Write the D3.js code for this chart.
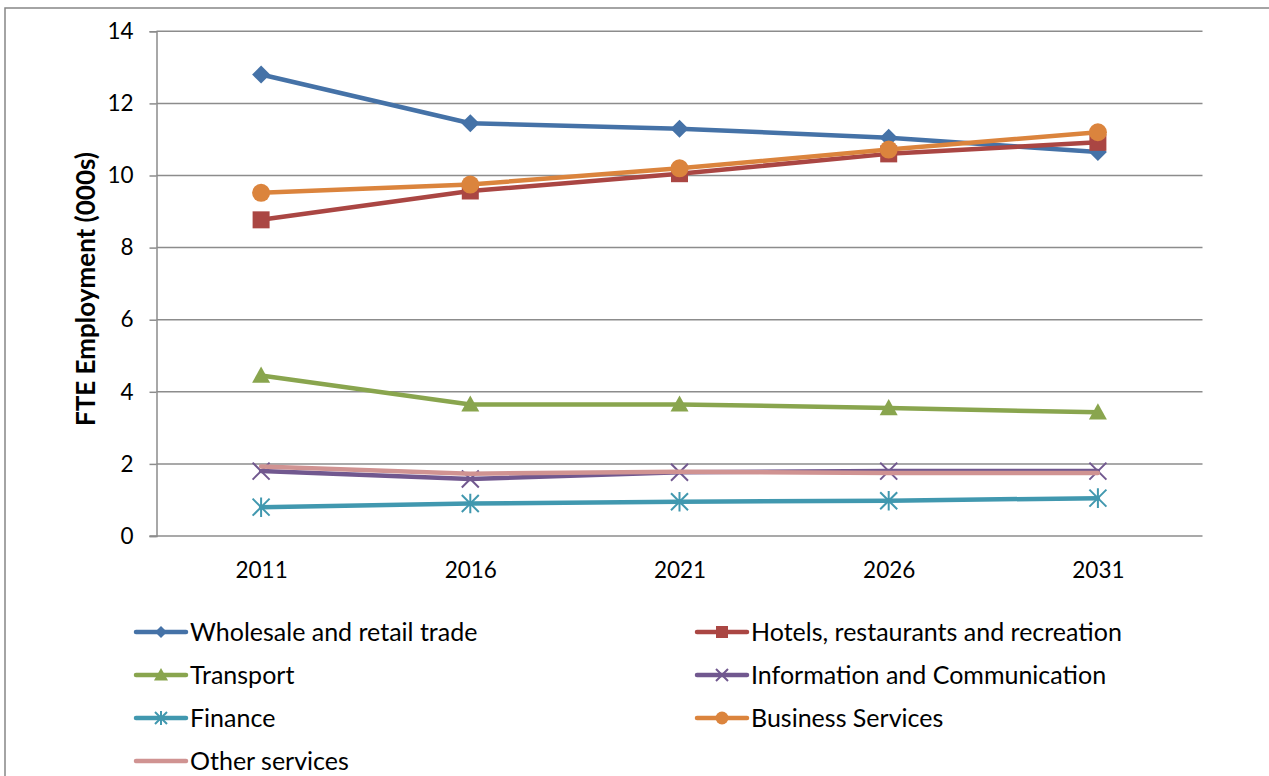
<!DOCTYPE html>
<html>
<head>
<meta charset="utf-8">
<script src="https://cdn.jsdelivr.net/npm/d3@7"></script>
<style>
  html, body { margin: 0; padding: 0; background: #fff; }
  svg { display: block; }
  text { font-family: Lato, "Open Sans", sans-serif; fill: #000; }
</style>
</head>
<body>
<svg id="chart" width="1269" height="776"></svg>
<script>
// Categories and series (FTE employment, thousands)
const years = ["2011", "2016", "2021", "2026", "2031"];
const wholesale = [12.8, 11.45, 11.3, 11.05, 10.65];
const hotels = [8.77, 9.57, 10.05, 10.6, 10.92];
const transport = [4.45, 3.65, 3.65, 3.55, 3.43];
const information = [1.8, 1.58, 1.77, 1.8, 1.8];
const finance = [0.8, 0.9, 0.95, 0.98, 1.05];
const business = [9.52, 9.75, 10.2, 10.72, 11.2];
const otherServices = [1.93, 1.73, 1.78, 1.75, 1.75];
const yTicks = [0, 2, 4, 6, 8, 10, 12, 14];

const series = [
  { name: "Wholesale and retail trade", values: wholesale, color: "#4572A7", marker: "diamond" },
  { name: "Hotels, restaurants and recreation", values: hotels, color: "#AA4643", marker: "square" },
  { name: "Transport", values: transport, color: "#89A54E", marker: "triangle" },
  { name: "Information and Communication", values: information, color: "#71588F", marker: "x" },
  { name: "Finance", values: finance, color: "#4198AF", marker: "star" },
  { name: "Business Services", values: business, color: "#DB843D", marker: "circle" },
  { name: "Other services", values: otherServices, color: "#D09392", marker: "none" }
];

const svg = d3.select("#chart");
const plot = { left: 156.5, right: 1202.5, top: 31.3, bottom: 536 };

// Outer chart frame
svg.append("path")
  .attr("d", "M5,776 L5,8 L1269,8")
  .attr("fill", "none")
  .attr("stroke", "#878787")
  .attr("stroke-width", 1.5);

const x = d3.scalePoint().domain(years).range([plot.left, plot.right]).padding(0.5);
const y = d3.scaleLinear().domain([0, 14]).range([plot.bottom, plot.top]);

// Horizontal gridlines
svg.append("g").selectAll("line")
  .data(yTicks.filter(d => d > 0))
  .join("line")
  .attr("x1", plot.left).attr("x2", plot.right)
  .attr("y1", d => y(d)).attr("y2", d => y(d))
  .attr("stroke", "#8c8c8c").attr("stroke-width", 1.5);

// Y axis
const yAxis = svg.append("g")
  .attr("transform", `translate(${plot.left},0)`)
  .call(d3.axisLeft(y).tickValues(yTicks).tickSize(7).tickPadding(16).tickFormat(d3.format("d")));
yAxis.select(".domain").attr("stroke", "#8c8c8c").attr("stroke-width", 1.5);
yAxis.selectAll(".tick line").attr("stroke", "#8c8c8c").attr("stroke-width", 1.5);
yAxis.selectAll(".tick text").attr("font-size", 22.5).attr("font-family", "Lato, sans-serif").attr("fill", "#000");

// X axis
const xAxis = svg.append("g")
  .attr("transform", `translate(0,${plot.bottom})`)
  .call(d3.axisBottom(x).tickSize(0).tickPadding(26));
xAxis.select(".domain").attr("stroke", "#8c8c8c").attr("stroke-width", 1.5)
  .attr("d", `M${plot.left - 7},0H${plot.right}`);
xAxis.selectAll(".tick text").attr("font-size", 22.5).attr("font-family", "Lato, sans-serif").attr("fill", "#000");

// Y axis title
svg.append("text")
  .attr("transform", `translate(95,289) rotate(-90)`)
  .attr("text-anchor", "middle")
  .attr("font-size", 26)
  .attr("font-weight", "bold")
  .text("FTE Employment (000s)");

// Marker shapes
function markerPath(type, r) {
  switch (type) {
    case "diamond": return `M0,${-r}L${r},0L0,${r}L${-r},0Z`;
    case "square": return `M${-r},${-r}H${r}V${r}H${-r}Z`;
    case "triangle": return `M0,${-r}L${r},${r * 0.8}L${-r},${r * 0.8}Z`;
    case "x": return `M${-r},${-r}L${r},${r}M${-r},${r}L${r},${-r}`;
    case "star": return `M${-r},${-r}L${r},${r}M${-r},${r}L${r},${-r}M0,${-r * 1.15}L0,${r * 1.15}`;
    default: return "";
  }
}
const strokeMarkers = new Set(["x", "star"]);

function drawMarker(g, s, cx, cy, r) {
  if (s.marker === "none") return;
  if (s.marker === "circle") {
    g.append("circle").attr("cx", cx).attr("cy", cy).attr("r", r).attr("fill", s.color);
  } else if (strokeMarkers.has(s.marker)) {
    g.append("path").attr("transform", `translate(${cx},${cy})`)
      .attr("d", markerPath(s.marker, r)).attr("fill", "none")
      .attr("stroke", s.color).attr("stroke-width", 2);
  } else {
    g.append("path").attr("transform", `translate(${cx},${cy})`)
      .attr("d", markerPath(s.marker, r)).attr("fill", s.color);
  }
}

const line = d3.line().x((d, i) => x(years[i])).y(d => y(d));

// Series lines with markers
series.forEach(s => {
  const g = svg.append("g");
  g.append("path")
    .attr("d", line(s.values))
    .attr("fill", "none")
    .attr("stroke", s.color)
    .attr("stroke-width", 4.5)
    .attr("stroke-linejoin", "round")
    .attr("stroke-linecap", "round");
  const r = { diamond: 9, square: 8.5, triangle: 9, x: 8.5, star: 8.5, circle: 9 }[s.marker];
  s.values.forEach((v, i) => drawMarker(g, s, x(years[i]), y(v), r));
});

// Legend, two columns
const legendCols = [136, 697];
const legendRows = [632, 675, 718, 761];
series.forEach((s, i) => {
  const lx = legendCols[i % 2];
  const ly = legendRows[Math.floor(i / 2)];
  const g = svg.append("g");
  g.append("line")
    .attr("x1", lx).attr("x2", lx + 50).attr("y1", ly).attr("y2", ly)
    .attr("stroke", s.color).attr("stroke-width", 4.5).attr("stroke-linecap", "round");
  const r = { diamond: 6, square: 6, triangle: 7, x: 6, star: 6, circle: 6.5 }[s.marker];
  drawMarker(g, s, lx + 25, ly, r);
  g.append("text")
    .attr("x", lx + 54).attr("y", ly)
    .attr("dy", "0.35em")
    .attr("font-size", 25)
    .text(s.name);
});
</script>
</body>
</html>
